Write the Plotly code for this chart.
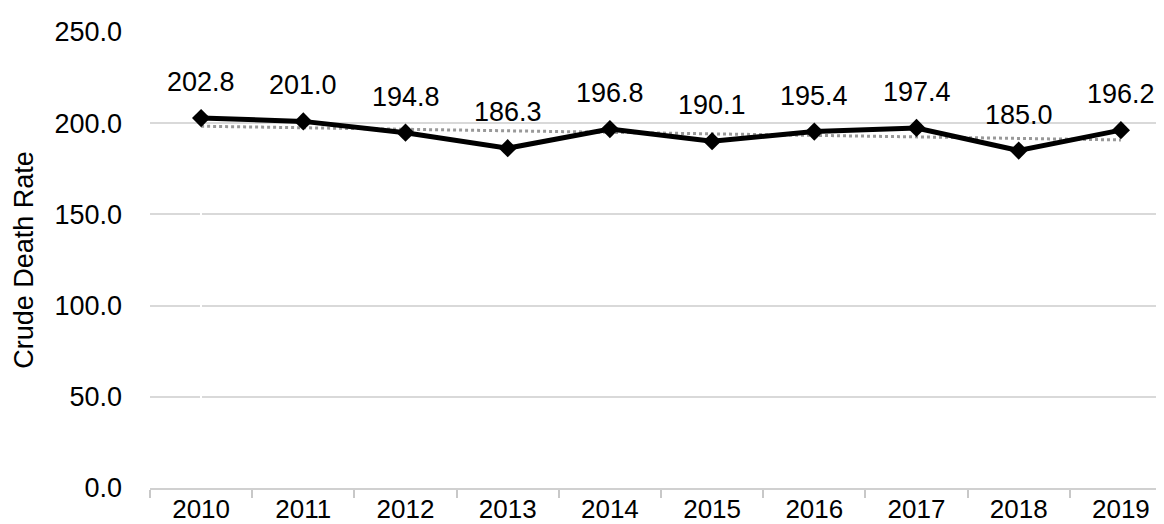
import numpy as np
import plotly.graph_objects as go

years = ["2010", "2011", "2012", "2013", "2014", "2015", "2016", "2017", "2018", "2019"]
rates = [202.8, 201.0, 194.8, 186.3, 196.8, 190.1, 195.4, 197.4, 185.0, 196.2]
y_ticks = [0, 50, 100, 150, 200, 250]
y_tick_labels = ["0.0", "50.0", "100.0", "150.0", "200.0", "250.0"]

idx = np.arange(len(rates))
slope, intercept = np.polyfit(idx, rates, 1)
trend = list(slope * idx + intercept)

FONT = "Liberation Sans, Arial, sans-serif"
FS = 27

fig = go.Figure()
fig.add_trace(go.Scatter(
    x=list(idx), y=trend, mode="lines",
    line=dict(color="#999999", width=3, dash="dot"),
    hoverinfo="skip", showlegend=False,
))
fig.add_trace(go.Scatter(
    x=list(idx), y=rates, mode="lines+markers",
    line=dict(color="black", width=5),
    marker=dict(symbol="diamond", size=14, color="black"),
    showlegend=False, cliponaxis=False,
))
for i, v in zip(idx, rates):
    fig.add_annotation(x=int(i), y=v, text=f"{v:.1f}", showarrow=False,
                       yshift=36, font=dict(family=FONT, size=FS, color="black"))

fig.update_layout(
    width=1164, height=524,
    margin=dict(l=142, r=0, t=24, b=44),
    paper_bgcolor="white", plot_bgcolor="white",
    font=dict(family=FONT, size=FS, color="black"),
)
fig.update_xaxes(
    tickmode="array", tickvals=list(idx), ticktext=years,
    showgrid=False,
    showline=True, linecolor="#d0d0d0", linewidth=2,
    ticks="", ticklabelstandoff=-3,
    tickfont=dict(family=FONT, size=26, color="black"),
    range=[-0.5, 9.5],
)
# boundary tick marks via minor ticks
fig.update_xaxes(minor=dict(tickmode="array", tickvals=[i - 0.5 for i in range(len(years))],
                            ticks="outside", ticklen=8, tickwidth=2, tickcolor="#c8c8c8", showgrid=False))
fig.update_yaxes(
    range=[0, 250], tickvals=y_ticks, ticktext=y_tick_labels,
    showgrid=True, gridcolor="#d9d9d9", gridwidth=2,
    zeroline=False, showline=False, ticks="",
    ticklabelstandoff=27,
    tickfont=dict(family=FONT, size=FS, color="black"),
    title=dict(text="Crude Death Rate", font=dict(family=FONT, size=FS, color="black"), standoff=12),
)

fig.write_html("out.html")
